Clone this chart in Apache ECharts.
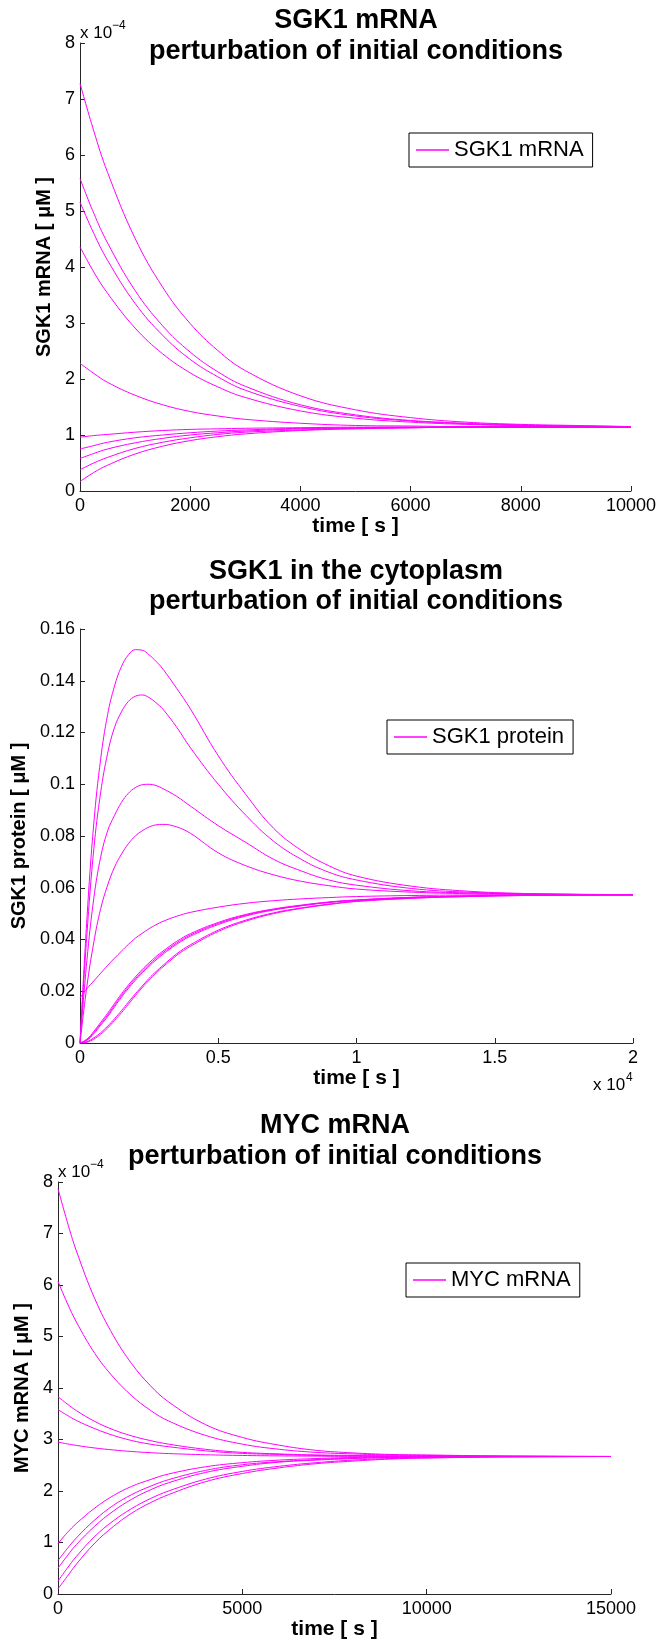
<!DOCTYPE html>
<html>
<head>
<meta charset="utf-8">
<script src="https://cdn.jsdelivr.net/npm/echarts@6/dist/echarts.min.js"></script>
<style>
  html, body { margin: 0; padding: 0; background: #fff; }
  #chart { width: 659px; height: 1644px; }
</style>
</head>
<body>
<div id="chart"></div>
<script>
// ---------- Panel 1: SGK1 mRNA (values in units of 1e-4 uM) ----------
const time1 = [0, 250, 500, 1000, 1500, 2000, 2500, 3000, 4000, 5000, 6000, 7000, 8000, 9000, 10000];
const sgk1Mrna = [
  [7.28, 6.43, 5.69, 4.51, 3.64, 2.99, 2.51, 2.15, 1.70, 1.45, 1.31, 1.23, 1.19, 1.17, 1.15],
  [5.58, 4.96, 4.43, 3.58, 2.95, 2.48, 2.13, 1.87, 1.54, 1.36, 1.26, 1.21, 1.18, 1.16, 1.15],
  [5.16, 4.60, 4.12, 3.35, 2.78, 2.35, 2.04, 1.80, 1.51, 1.34, 1.25, 1.20, 1.17, 1.16, 1.15],
  [4.36, 3.91, 3.53, 2.91, 2.45, 2.11, 1.86, 1.67, 1.43, 1.30, 1.23, 1.19, 1.17, 1.15, 1.15],
  [2.28, 2.10, 1.94, 1.71, 1.54, 1.42, 1.34, 1.28, 1.21, 1.17, 1.16, 1.15, 1.15, 1.15, 1.15],
  [0.96, 0.99, 1.01, 1.05, 1.08, 1.10, 1.11, 1.12, 1.13, 1.14, 1.14, 1.14, 1.14, 1.14, 1.14],
  [0.75, 0.81, 0.87, 0.95, 1.00, 1.04, 1.07, 1.09, 1.12, 1.13, 1.14, 1.14, 1.14, 1.14, 1.14],
  [0.58, 0.67, 0.75, 0.86, 0.94, 1.00, 1.04, 1.07, 1.11, 1.12, 1.13, 1.14, 1.14, 1.14, 1.14],
  [0.38, 0.50, 0.60, 0.76, 0.87, 0.95, 1.01, 1.05, 1.09, 1.12, 1.13, 1.14, 1.14, 1.14, 1.14],
  [0.17, 0.33, 0.46, 0.66, 0.80, 0.90, 0.97, 1.02, 1.08, 1.11, 1.13, 1.14, 1.14, 1.14, 1.14]
];

// ---------- Panel 2: SGK1 protein in the cytoplasm (uM) ----------
const time2 = [0, 250, 500, 750, 1000, 1250, 1500, 1750, 2000, 2250, 2500, 2750, 3000, 3500, 4000, 5000, 6000, 7000, 8000, 9000, 10000, 12000, 14000, 16000, 18000, 20000];
const sgk1Protein = [
  [0, 0.048, 0.085, 0.110, 0.127, 0.138, 0.1455, 0.150, 0.152, 0.1518, 0.150, 0.1475, 0.1445, 0.137, 0.129, 0.111, 0.096, 0.083, 0.0745, 0.0685, 0.0645, 0.0606, 0.0587, 0.0578, 0.0575, 0.0573],
  [0, 0.042, 0.075, 0.097, 0.112, 0.122, 0.128, 0.132, 0.134, 0.1345, 0.1335, 0.1315, 0.129, 0.122, 0.114, 0.100, 0.088, 0.078, 0.071, 0.066, 0.063, 0.0597, 0.0583, 0.0577, 0.0574, 0.0573],
  [0, 0.032, 0.056, 0.072, 0.082, 0.088, 0.093, 0.0965, 0.0987, 0.0998, 0.100, 0.0995, 0.0983, 0.0953, 0.0915, 0.084, 0.0775, 0.071, 0.0665, 0.063, 0.061, 0.0588, 0.058, 0.0576, 0.0574, 0.0573],
  [0, 0.022, 0.039, 0.052, 0.061, 0.068, 0.073, 0.077, 0.080, 0.082, 0.0835, 0.0843, 0.0845, 0.0835, 0.081, 0.0735, 0.0685, 0.065, 0.0625, 0.0608, 0.0595, 0.0583, 0.0577, 0.0575, 0.0574, 0.0573],
  [0.0174, 0.021, 0.024, 0.027, 0.030, 0.0328, 0.0355, 0.0381, 0.0405, 0.0424, 0.0442, 0.0457, 0.047, 0.049, 0.0505, 0.0525, 0.054, 0.055, 0.0557, 0.0562, 0.0566, 0.057, 0.0572, 0.0573, 0.0573, 0.0573],
  [0, 0.0015, 0.0045, 0.008, 0.0115, 0.0153, 0.019, 0.0224, 0.0255, 0.0284, 0.031, 0.0334, 0.0355, 0.0393, 0.0423, 0.0466, 0.0497, 0.0518, 0.0533, 0.0545, 0.0553, 0.0563, 0.0568, 0.0571, 0.0572, 0.0573],
  [0, 0.0012, 0.0040, 0.0074, 0.0108, 0.0146, 0.0183, 0.0217, 0.0248, 0.0277, 0.0303, 0.0327, 0.0349, 0.0387, 0.0418, 0.0462, 0.0494, 0.0516, 0.0531, 0.0544, 0.0552, 0.0563, 0.0568, 0.0571, 0.0572, 0.0573],
  [0, 0.0010, 0.0036, 0.0069, 0.0102, 0.0140, 0.0177, 0.0211, 0.0242, 0.0271, 0.0297, 0.0321, 0.0343, 0.0382, 0.0413, 0.0458, 0.0491, 0.0514, 0.0530, 0.0543, 0.0551, 0.0562, 0.0568, 0.0571, 0.0572, 0.0573],
  [0, 0.0005, 0.002, 0.004, 0.0065, 0.0094, 0.0125, 0.0158, 0.019, 0.022, 0.025, 0.0276, 0.030, 0.0345, 0.038, 0.0436, 0.0475, 0.0503, 0.0522, 0.0537, 0.0548, 0.056, 0.0566, 0.057, 0.0572, 0.0573],
  [0, 0.0003, 0.0015, 0.0034, 0.0058, 0.0087, 0.0117, 0.015, 0.0183, 0.0214, 0.0243, 0.027, 0.0294, 0.0339, 0.0374, 0.0431, 0.0471, 0.0500, 0.0520, 0.0535, 0.0547, 0.0559, 0.0566, 0.057, 0.0572, 0.0573]
];

// ---------- Panel 3: MYC mRNA (values in units of 1e-4 uM) ----------
const time3 = [0, 250, 500, 1000, 1500, 2000, 2500, 3000, 4000, 5000, 6000, 7000, 8000, 9000, 10000, 12000, 15000];
const mycMrna = [
  [7.87, 7.23, 6.66, 5.73, 5.02, 4.47, 4.05, 3.73, 3.29, 3.04, 2.89, 2.79, 2.74, 2.71, 2.70, 2.68, 2.67],
  [6.07, 5.65, 5.28, 4.67, 4.21, 3.85, 3.57, 3.36, 3.08, 2.91, 2.81, 2.75, 2.72, 2.70, 2.69, 2.68, 2.67],
  [3.83, 3.69, 3.56, 3.35, 3.19, 3.07, 2.98, 2.91, 2.81, 2.75, 2.72, 2.70, 2.69, 2.68, 2.68, 2.67, 2.67],
  [3.58, 3.47, 3.37, 3.21, 3.08, 2.98, 2.91, 2.86, 2.78, 2.73, 2.71, 2.69, 2.68, 2.68, 2.67, 2.67, 2.67],
  [2.95, 2.915, 2.885, 2.835, 2.797, 2.767, 2.744, 2.727, 2.704, 2.69, 2.682, 2.677, 2.674, 2.672, 2.671, 2.67, 2.67],
  [0.98, 1.19, 1.37, 1.67, 1.91, 2.09, 2.22, 2.33, 2.47, 2.55, 2.60, 2.63, 2.65, 2.66, 2.66, 2.67, 2.67],
  [0.65, 0.88, 1.09, 1.44, 1.72, 1.93, 2.09, 2.22, 2.40, 2.51, 2.57, 2.61, 2.64, 2.65, 2.66, 2.67, 2.67],
  [0.50, 0.74, 0.96, 1.32, 1.61, 1.84, 2.02, 2.16, 2.36, 2.48, 2.56, 2.60, 2.63, 2.65, 2.66, 2.67, 2.67],
  [0.25, 0.50, 0.73, 1.12, 1.42, 1.66, 1.85, 2.00, 2.23, 2.38, 2.48, 2.55, 2.60, 2.63, 2.645, 2.66, 2.67],
  [0.10, 0.34, 0.58, 0.99, 1.31, 1.57, 1.77, 1.93, 2.18, 2.34, 2.45, 2.53, 2.58, 2.62, 2.64, 2.66, 2.67]
];

const legendNames = ['SGK1 mRNA', 'SGK1 protein', 'MYC mRNA'];
const titles = [
  ['SGK1 mRNA', 'perturbation of initial conditions'],
  ['SGK1 in the cytoplasm', 'perturbation of initial conditions'],
  ['MYC mRNA', 'perturbation of initial conditions']
];
const yNames = ['SGK1 mRNA [ \u03bcM ]', 'SGK1 protein [ \u03bcM ]', 'MYC mRNA [ \u03bcM ]'];
const xName = 'time [ s ]';

// ---------- chart ----------
const FONT = '"Liberation Sans", Arial, Helvetica, sans-serif';
const MAG = '#ff00ff';
const AX = '#262626';

const grids = [
  { left: 80, top: 43, width: 552, height: 448 },
  { left: 80, top: 629, width: 553, height: 414 },
  { left: 58, top: 1182, width: 553, height: 412 }
];

function plain(v) { return String(v); }

function xAxisCfg(idx, max, interval, fmt, gap) {
  return {
    type: 'value', gridIndex: idx, min: 0, max: max, interval: interval,
    name: xName, nameLocation: 'middle', nameGap: gap,
    nameTextStyle: { fontFamily: FONT, fontSize: 21, fontWeight: 'bold', color: '#000' },
    axisLine: { show: true, onZero: false, lineStyle: { color: AX, width: 1 } },
    axisTick: { show: true, inside: true, length: 5, lineStyle: { color: AX } },
    axisLabel: { fontFamily: FONT, fontSize: 18, color: '#000', margin: 6, formatter: fmt },
    splitLine: { show: false }
  };
}
function yAxisCfg(idx, max, interval, name, gap) {
  return {
    type: 'value', gridIndex: idx, min: 0, max: max, interval: interval,
    name: name, nameLocation: 'middle', nameGap: gap,
    nameTextStyle: { fontFamily: FONT, fontSize: 20, fontWeight: 'bold', color: '#000' },
    axisLine: { show: true, onZero: false, lineStyle: { color: AX, width: 1 } },
    axisTick: { show: true, inside: true, length: 5, lineStyle: { color: AX } },
    axisLabel: { fontFamily: FONT, fontSize: 18, color: '#000', margin: 5, formatter: plain },
    splitLine: { show: false }
  };
}

const series = [];
function addCurves(curves, times, idx, name) {
  curves.forEach(function (vals) {
    series.push({
      type: 'line', name: name, xAxisIndex: idx, yAxisIndex: idx,
      data: times.map(function (t, i) { return [t, vals[i]]; }),
      showSymbol: false, symbol: 'none', smooth: 0.4,
      lineStyle: { color: MAG, width: 1 }, itemStyle: { color: MAG },
      silent: true, animation: false
    });
  });
}
addCurves(sgk1Mrna, time1, 0, legendNames[0]);
addCurves(sgk1Protein, time2, 1, legendNames[1]);
addCurves(mycMrna, time3, 2, legendNames[2]);

function legendCfg(name, left, top) {
  return {
    data: [{ name: name, icon: 'rect' }], left: left, top: top, orient: 'vertical',
    backgroundColor: '#fff', borderColor: '#000', borderWidth: 1, borderRadius: 0,
    padding: [6, 9, 6, 7], itemWidth: 33, itemHeight: 1.5, itemGap: 0,
    itemStyle: { color: MAG },
    textStyle: { fontFamily: FONT, fontSize: 22, color: '#000', lineHeight: 22 },
    selectedMode: false
  };
}

function txt(text, x, y, size, weight, align) {
  return {
    type: 'text', silent: true,
    style: {
      text: text, x: x, y: y, fill: '#000',
      font: (weight || 'normal') + ' ' + size + 'px ' + FONT,
      textAlign: align || 'center', textVerticalAlign: 'middle'
    }
  };
}

const graphics = [
  txt(titles[0][0], 356, 20.5, 27, 'bold'),
  txt(titles[0][1], 356, 51.5, 27, 'bold'),
  txt(titles[1][0], 356, 572, 27, 'bold'),
  txt(titles[1][1], 356, 602, 27, 'bold'),
  txt(titles[2][0], 335, 1125.5, 27, 'bold'),
  txt(titles[2][1], 335, 1156.5, 27, 'bold'),
  txt('x 10', 80, 33, 17, 'normal', 'left'),
  txt('\u22124', 112, 26, 12, 'normal', 'left'),
  txt('x 10', 58, 1172, 17, 'normal', 'left'),
  txt('\u22124', 90, 1165, 12, 'normal', 'left'),
  txt('x 10', 593, 1085, 17, 'normal', 'left'),
  txt('4', 626, 1078, 12, 'normal', 'left')
];

const option = {
  animation: false,
  backgroundColor: '#fff',
  grid: grids,
  xAxis: [
    xAxisCfg(0, 10000, 2000, plain, 25),
    xAxisCfg(1, 20000, 5000, function (v) { return String(v / 10000); }, 21),
    xAxisCfg(2, 15000, 5000, plain, 23)
  ],
  yAxis: [
    yAxisCfg(0, 8, 1, yNames[0], 24),
    yAxisCfg(1, 0.16, 0.02, yNames[1], 47),
    yAxisCfg(2, 8, 1, yNames[2], 22)
  ],
  legend: [
    legendCfg(legendNames[0], 409, 133),
    legendCfg(legendNames[1], 387, 720),
    legendCfg(legendNames[2], 406, 1263)
  ],
  series: series,
  graphic: graphics
};

const chart = echarts.init(document.getElementById('chart'), null, { renderer: 'canvas' });
chart.setOption(option);
</script>
</body>
</html>
